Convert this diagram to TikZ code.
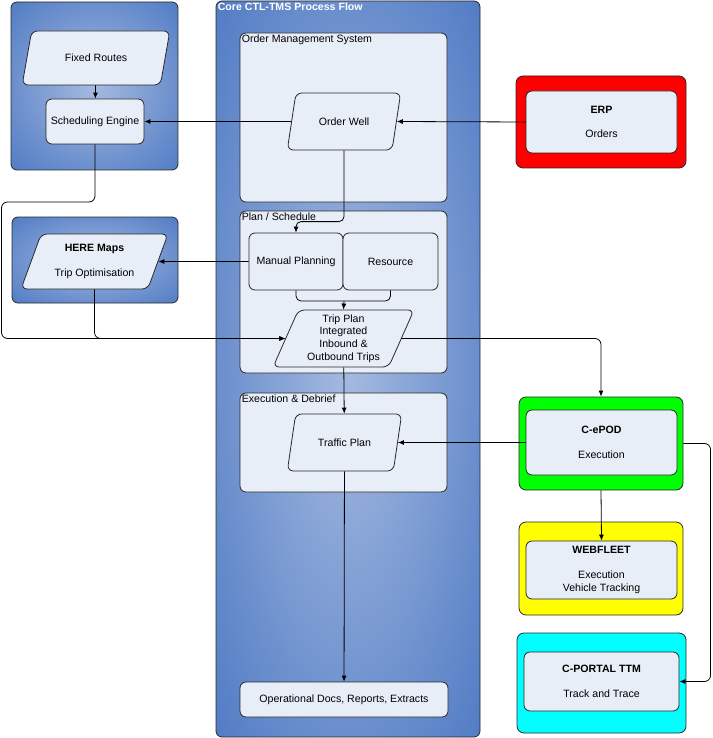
\documentclass[tikz,border=0pt]{standalone}
\usepackage{fontspec}
\setmainfont{Liberation Sans}
\usepackage{xcolor}
\usetikzlibrary{arrows,arrows.meta,positioning,shapes.geometric,calc}
\definecolor{panelblue}{RGB}{68,114,192}
\definecolor{panellight}{RGB}{165,186,224}
\definecolor{boxfill}{RGB}{232,238,248}
\definecolor{edgegray}{RGB}{40,40,40}
\definecolor{sysred}{RGB}{255,0,0}
\definecolor{sysgreen}{RGB}{0,255,0}
\definecolor{sysyellow}{RGB}{255,255,0}
\definecolor{syscyan}{RGB}{0,255,255}
\pgfdeclareradialshading{panelglow}{\pgfpointorigin}{color(0bp)=(panellight); color(41bp)=(panelblue); color(75bp)=(panelblue)}
\tikzset{
    %Define standard arrow tip
    >={Latex[length=6pt,width=5pt]},
    %Define style for the blue panels
    bluepanel/.style={
           rectangle,
           rounded corners=6pt,
           draw=edgegray, line width=0.8pt,
           shade, shading=panelglow},
    %Define style for the coloured system panels
    colourpanel/.style={
           rectangle,
           rounded corners=7pt,
           draw=edgegray, line width=0.8pt},
    %Define style for group boxes
    groupbox/.style={
           rectangle,
           rounded corners=6pt,
           draw=edgegray, line width=0.8pt,
           fill=boxfill},
    %Define style for process boxes
    procbox/.style={
           rectangle,
           rounded corners=6pt,
           draw=edgegray, line width=0.8pt,
           fill=boxfill,
           inner sep=2pt,
           align=center,
           text centered},
    %Define style for data (parallelogram) boxes
    databox/.style={
           trapezium,
           trapezium left angle=67.5,
           trapezium right angle=112.5,
           trapezium stretches=true,
           rounded corners=6pt,
           draw=edgegray, line width=0.8pt,
           fill=boxfill,
           inner sep=2pt,
           align=center},
    grouplabel/.style={anchor=north west, inner sep=2pt},
    paneltitle/.style={anchor=north west, inner sep=2pt, text=white, font=\fontsize{10.6pt}{12.7pt}\selectfont\bfseries},
    % Define arrow style
    pil/.style={
           ->,
           line width=0.8pt},
    link/.style={
           line width=0.8pt}
}

\begin{document}
\begin{tikzpicture}[x=1pt,y=-1pt,font=\fontsize{10.6pt}{12.7pt}\selectfont]
\useasboundingbox (0,0) rectangle (712,738);
 %blue panels
\node[bluepanel, minimum width=167pt, minimum height=168pt] (leftpanel) at (94.5,86) {};
\node[bluepanel, minimum width=166pt, minimum height=86pt] (herepanel) at (95,260) {};
\node[bluepanel, minimum width=264pt, minimum height=736pt] (core) at (348,369) {};
\node[paneltitle] (coretitle) at (core.north west) {Core CTL-TMS Process Flow};
 %scheduling side
\node[databox, minimum width=148pt, minimum height=54pt] (fixed) at (96,58) {Fixed Routes};
\node[procbox, minimum width=98pt, minimum height=45pt] (sched) at (95,121.5) {Scheduling Engine};
\node[databox, minimum width=147pt, minimum height=55pt] (here) at (94.5,261.5) {\textbf{HERE Maps}\\[12pt]Trip Optimisation};
 %groups in the core
\node[groupbox, minimum width=207pt, minimum height=169pt] (oms) at (343.5,117.5) {};
\node[grouplabel] at (oms.north west) {Order Management System};
\node[groupbox, minimum width=207pt, minimum height=162pt] (plan) at (343.5,292) {};
\node[grouplabel] at (plan.north west) {Plan / Schedule};
\node[groupbox, minimum width=207pt, minimum height=99pt] (exec) at (343.5,442.5) {};
\node[grouplabel] at (exec.north west) {Execution \& Debrief};
 %core steps
\node[databox, minimum width=114pt, minimum height=57pt] (orderwell) at (344,121.5) {Order Well};
\node[procbox, minimum width=94pt, minimum height=57pt] (manual) at (296,261.5) {Manual Planning};
\node[procbox, minimum width=95pt, minimum height=57pt] (resource) at (390.5,261.5) {Resource};
\node[databox, minimum width=141pt, minimum height=57pt] (tripplan) at (343.5,338.5) {Trip Plan\\Integrated\\Inbound \&\\Outbound Trips};
\node[databox, minimum width=115pt, minimum height=57pt] (traffic) at (344.5,442.5) {Traffic Plan};
\node[procbox, minimum width=208pt, minimum height=35pt] (opsdocs) at (344,699.5) {Operational Docs, Reports, Extracts};
 %external systems
\node[colourpanel, fill=sysred, minimum width=170pt, minimum height=92pt] (erp) at (601,122) {};
\node[procbox, minimum width=151pt, minimum height=62pt] (erpin) at (601.5,122) {\textbf{ERP}\\[12pt]Orders};
\node[colourpanel, fill=sysgreen, minimum width=164pt, minimum height=93pt] (cepod) at (601,443.5) {};
\node[procbox, minimum width=151pt, minimum height=65pt] (cepodin) at (601.5,442.5) {\textbf{C-ePOD}\\[12pt]Execution};
\node[colourpanel, fill=sysyellow, minimum width=164pt, minimum height=93pt] (webfleet) at (601,568.5) {};
\node[procbox, minimum width=151pt, minimum height=58pt] (webfleetin) at (601.5,570) {\textbf{WEBFLEET}\\[12pt]Execution\\Vehicle Tracking};
\node[colourpanel, fill=syscyan, minimum width=169pt, minimum height=100pt] (cportal) at (601.5,683) {};
\node[procbox, minimum width=155pt, minimum height=59pt] (cportalin) at (601.5,681.5) {\textbf{C-PORTAL TTM}\\[12pt]Track and Trace};
\coordinate (leftrail) at (1.5,202);
\coordinate (merge) at (344,301);
\coordinate (rightrail) at (710.5,0);
 %connectors
\path[pil]
    (fixed) edge (sched)
    (erpin.west) edge (orderwell.east)
    (orderwell.west) edge (sched.east)
    (manual.west) edge (here.east)
    (merge) edge (tripplan.north)
    (tripplan) edge (traffic)
    (traffic) edge (opsdocs)
    (cepodin.west) edge (traffic.east)
    (cepod.south) edge (webfleetin.north);
\draw[pil, rounded corners=5pt] (orderwell.south) |- ($(manual.north)+(0,-11)$) -- (manual.north);
\draw[link, rounded corners=5pt] (manual.south) |- (merge) -| (resource.south);
\draw[pil, rounded corners=6pt] (sched.south) |- (leftrail) |- (tripplan.west);
\draw[pil, rounded corners=6pt] (here.south) |- (tripplan.west);
\draw[pil, rounded corners=6pt] (tripplan.east) -| (cepod.north);
\draw[pil, rounded corners=6pt] (cepod.east) -| (rightrail |- cportalin.east) -- (cportalin.east);
\end{tikzpicture}
\end{document}
